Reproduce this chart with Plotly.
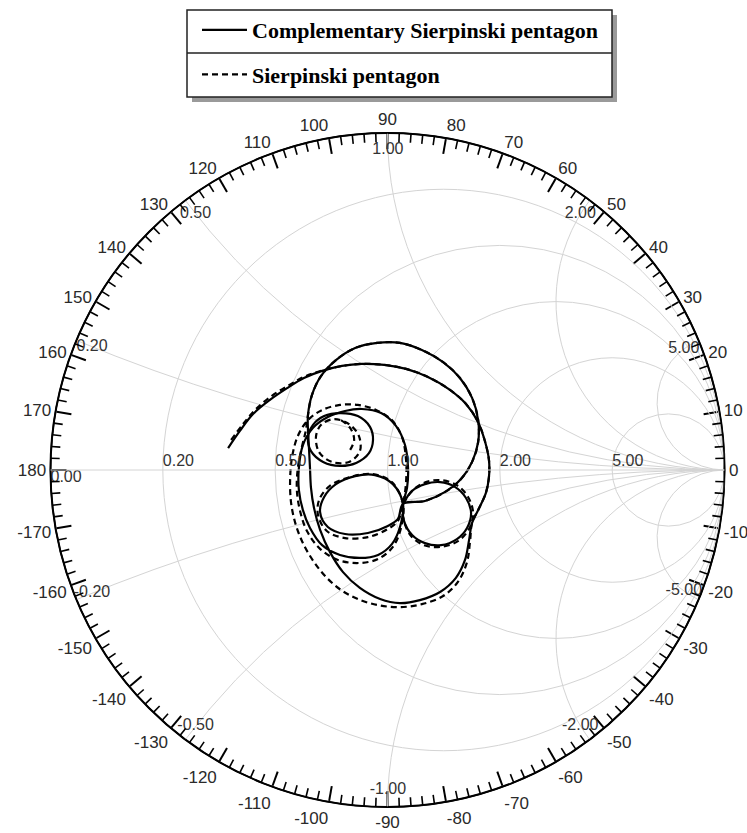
import math
import plotly.graph_objects as go

# ---------------- data: reflection coefficient readings (Re Γ, Im Γ); None = pen lift
comp_re = [-0.473,-0.438,-0.399,-0.349,-0.298,-0.248,-0.194,-0.135,-0.076,-0.010,0.055,0.120,0.182,0.233,0.269,0.289,0.301,0.301,0.292,0.272,0.251,
           0.242,0.230,0.203,0.156,0.096,0.037,-0.022,-0.082,-0.132,-0.171,-0.200,-0.218,-0.227,-0.230,-0.233,-0.236,
           -0.236,-0.224,-0.197,-0.153,-0.096,-0.031,0.037,0.102,0.165,0.215,0.251,0.269,0.269,0.251,0.218,0.171,0.111,0.046,
           0.031,0.001,-0.058,-0.126,-0.177,-0.200,-0.188,-0.153,-0.096,-0.037,0.016,0.046,
           0.037,0.013,-0.028,-0.082,-0.141,-0.194,-0.230,-0.251,-0.263,-0.263,-0.251,-0.221,-0.177,-0.126,-0.076,-0.019,0.025,0.052,0.061,0.058,0.046,
           0.049,0.073,0.111,0.159,0.206,0.236,0.248,0.233,0.200,0.156,0.111,0.073,0.046,
           None,
           -0.141,-0.088,-0.052,-0.043,-0.055,-0.093,-0.141,-0.191,-0.227,-0.236,-0.221,-0.188,-0.141]
comp_im = [0.065,0.116,0.166,0.208,0.243,0.273,0.294,0.309,0.315,0.312,0.300,0.276,0.240,0.196,0.142,0.086,0.030,-0.021,-0.068,-0.113,-0.157,
           -0.208,-0.267,-0.320,-0.362,-0.386,-0.395,-0.383,-0.350,-0.303,-0.243,-0.178,-0.113,-0.053,0.006,0.065,0.119,
           0.163,0.223,0.279,0.326,0.362,0.377,0.377,0.356,0.320,0.273,0.214,0.148,0.083,0.024,-0.027,-0.065,-0.092,-0.101,
           -0.145,-0.166,-0.187,-0.190,-0.169,-0.125,-0.080,-0.042,-0.018,-0.015,-0.042,-0.101,
           -0.169,-0.220,-0.252,-0.261,-0.252,-0.223,-0.172,-0.119,-0.059,0.006,0.074,0.125,0.157,0.175,0.181,0.169,0.131,0.074,0.006,-0.053,-0.101,
           -0.151,-0.193,-0.217,-0.223,-0.205,-0.172,-0.128,-0.083,-0.050,-0.036,-0.042,-0.062,-0.101,
           None,
           0.169,0.160,0.128,0.089,0.050,0.021,0.012,0.024,0.056,0.095,0.134,0.160,0.169]

sier_re = [-0.464,-0.429,-0.390,-0.343,-0.292,-0.242,-0.188,-0.132,-0.076,-0.010,0.055,0.120,0.182,0.233,0.269,0.289,0.301,0.301,0.292,0.272,0.251,
           0.245,0.236,0.209,0.165,0.102,0.037,-0.028,-0.088,-0.138,-0.182,-0.218,-0.248,-0.272,-0.286,-0.289,-0.283,-0.266,-0.236,-0.194,-0.141,-0.088,-0.034,0.013,0.043,0.055,0.055,0.046,
           0.031,0.001,-0.058,-0.126,-0.180,-0.206,-0.203,-0.171,-0.111,-0.046,0.013,0.046,
           0.040,0.016,-0.028,-0.085,-0.147,-0.200,-0.239,-0.260,-0.269,-0.266,-0.254,-0.242,-0.236,-0.224,-0.197,-0.153,-0.096,-0.031,0.037,0.102,0.165,0.215,0.251,0.269,0.269,0.251,0.218,0.171,0.111,0.046,
           0.049,0.070,0.108,0.159,0.209,0.242,0.254,0.239,0.206,0.159,0.114,0.076,0.046,
           None,
           -0.212,-0.203,-0.165,-0.114,-0.082,-0.085,-0.114,-0.159,-0.197,-0.212,
           None,
           -0.138,-0.111,-0.099,-0.117]
sier_im = [0.089,0.136,0.181,0.220,0.252,0.279,0.297,0.309,0.315,0.312,0.300,0.276,0.240,0.196,0.142,0.086,0.030,-0.021,-0.068,-0.113,-0.157,
           -0.211,-0.273,-0.332,-0.374,-0.398,-0.407,-0.401,-0.383,-0.356,-0.318,-0.273,-0.223,-0.163,-0.098,-0.030,0.039,0.101,0.148,0.178,0.193,0.193,0.178,0.148,0.098,0.030,-0.036,-0.101,
           -0.151,-0.175,-0.199,-0.202,-0.181,-0.134,-0.089,-0.047,-0.021,-0.012,-0.036,-0.101,
           -0.172,-0.228,-0.264,-0.276,-0.267,-0.234,-0.181,-0.119,-0.059,0.006,0.068,0.119,0.163,0.223,0.279,0.326,0.362,0.377,0.377,0.356,0.320,0.273,0.214,0.148,0.083,0.024,-0.027,-0.065,-0.092,-0.101,
           -0.151,-0.196,-0.223,-0.228,-0.211,-0.175,-0.128,-0.080,-0.045,-0.030,-0.036,-0.059,-0.101,
           None,
           0.101,0.053,0.024,0.024,0.056,0.101,0.136,0.151,0.134,0.101,
           None,
           0.148,0.125,0.089,0.050]

real_ticks = [0.2, 0.5, 1, 2, 5]
real_labels = ["0.20", "0.50", "1.00", "2.00", "5.00"]
imag_ticks = [0.2, 0.5, 1, 2, 5, -0.2, -0.5, -1, -2, -5]
imag_labels = ["0.20", "0.50", "1.00", "2.00", "5.00", "-0.20", "-0.50", "-1.00", "-2.00", "-5.00"]
angle_major = list(range(0, 360, 10))
angle_major_labels = [str(a if a <= 180 else a - 360) for a in angle_major]
angle_minor = [a for a in range(0, 360, 2) if a % 10 != 0]

series_names = ["Complementary Sierpinski pentagon", "Sierpinski pentagon"]


def gamma_to_z(gre, gim):
    rr, xx = [], []
    for a, b in zip(gre, gim):
        if a is None:
            rr.append(None); xx.append(None); continue
        g = complex(a, b)
        z = (1 + g) / (1 - g)
        rr.append(z.real); xx.append(z.imag)
    return rr, xx


def r_on_rho(x, rho=0.95):
    a = 1 - rho ** 2
    b = 1 + rho ** 2
    return (b - math.sqrt(b * b - a * a * (1 + x * x))) / a


W, H = 747, 833
cx, cy, R = 387.5, 470, 337
dom_x = [(cx - R) / W, (cx + R) / W]
dom_y = [1 - (cy + R) / H, 1 - (cy - R) / H]
MINOR_LEN = 9

fig = go.Figure()

# polar subplot carrying the 10° ring ticks and labels
fig.add_trace(go.Scatterpolar(r=[None], theta=[None], subplot="polar", showlegend=False,
                              hoverinfo="skip", mode="lines"))

cr, cxv = gamma_to_z(comp_re, comp_im)
sr, sxv = gamma_to_z(sier_re, sier_im)

fig.add_trace(go.Scattersmith(real=cr, imag=cxv, mode="lines", name=series_names[0],
                              legendgroup="a", connectgaps=False,
                              line=dict(color="black", width=2.2, shape="spline", smoothing=1.0),
                              hoverinfo="skip"))
fig.add_trace(go.Scattersmith(real=sr, imag=sxv, mode="lines", name=series_names[1],
                              legendgroup="b", connectgaps=False,
                              line=dict(color="black", width=2.2, dash="6px,4px", shape="spline", smoothing=1.0),
                              hoverinfo="skip"))

lab_font = dict(family="Liberation Sans, Arial", size=16, color="#333")
# real-axis labels
fig.add_trace(go.Scattersmith(real=[0] + real_ticks, imag=[0] * (len(real_ticks) + 1),
                              mode="text", text=["0.00"] + real_labels,
                              textposition=["bottom right"] + ["top right"] * len(real_ticks),
                              textfont=lab_font, showlegend=False, hoverinfo="skip", cliponaxis=False))
# imaginary-arc labels just inside the rim
fig.add_trace(go.Scattersmith(real=[r_on_rho(x) for x in imag_ticks], imag=imag_ticks,
                              mode="text", text=imag_labels, textposition="middle center",
                              textfont=lab_font, showlegend=False, hoverinfo="skip", cliponaxis=False))

grid = "#d4d4d4"
fig.update_layout(
    width=W, height=H,
    margin=dict(l=0, r=0, t=0, b=0),
    paper_bgcolor="white",
    smith=dict(
        domain=dict(x=dom_x, y=dom_y),
        bgcolor="rgba(0,0,0,0)",
        realaxis=dict(tickvals=real_ticks, showticklabels=False, gridcolor=grid, gridwidth=1,
                      linecolor=grid, linewidth=1, ticks=""),
        imaginaryaxis=dict(tickvals=imag_ticks, showticklabels=False, gridcolor=grid, gridwidth=1,
                           linecolor="black", linewidth=1.5, ticks=""),
    ),
    polar=dict(
        domain=dict(x=dom_x, y=dom_y),
        bgcolor="rgba(0,0,0,0)",
        radialaxis=dict(visible=False, range=[0, 1]),
        angularaxis=dict(rotation=0, direction="counterclockwise", tickmode="array",
                         tickvals=angle_major, ticktext=angle_major_labels,
                         ticks="inside", ticklen=15, tickwidth=1.6, tickcolor="black",
                         showline=True, linecolor="black", linewidth=2, showgrid=False,
                         tickfont=dict(family="Liberation Sans, Arial", size=17, color="#2a2a2a")),
    ),
    legend=dict(x=197 / W, y=1 - 9 / H, xanchor="left", yanchor="top",
                bgcolor="rgba(0,0,0,0)", borderwidth=0, tracegroupgap=13, itemwidth=45,
                font=dict(family="Liberation Serif, Times New Roman", size=22, color="black", weight="bold")),
    hovermode=False,
)

# minor degree ticks (every 2°) on the ring, placed from the tick angle list
shapes = []
for a in angle_minor:
    t = math.radians(a)
    x_out, y_out = cx + R * math.cos(t), cy - R * math.sin(t)
    x_in, y_in = cx + (R - MINOR_LEN) * math.cos(t), cy - (R - MINOR_LEN) * math.sin(t)
    shapes.append(dict(type="line", xref="paper", yref="paper",
                       x0=x_out / W, y0=1 - y_out / H, x1=x_in / W, y1=1 - y_in / H,
                       line=dict(color="#000000", width=1.6), layer="above"))

def px_rect(x0, y0, x1, y1, **kw):
    return dict(type="rect", xref="paper", yref="paper", x0=x0 / W, x1=x1 / W,
                y0=1 - y1 / H, y1=1 - y0 / H, layer="below", **kw)

shapes.append(px_rect(192, 15, 617, 102, fillcolor="#9a9a9a", line=dict(width=0)))
shapes.append(px_rect(187, 10, 612, 97, fillcolor="white", line=dict(color="#222", width=1.5)))
shapes.append(dict(type="line", xref="paper", yref="paper", x0=187 / W, x1=612 / W,
                   y0=1 - 53 / H, y1=1 - 53 / H, line=dict(color="#222", width=1.5), layer="below"))
fig.update_layout(shapes=shapes)

fig.write_html("out.html")
